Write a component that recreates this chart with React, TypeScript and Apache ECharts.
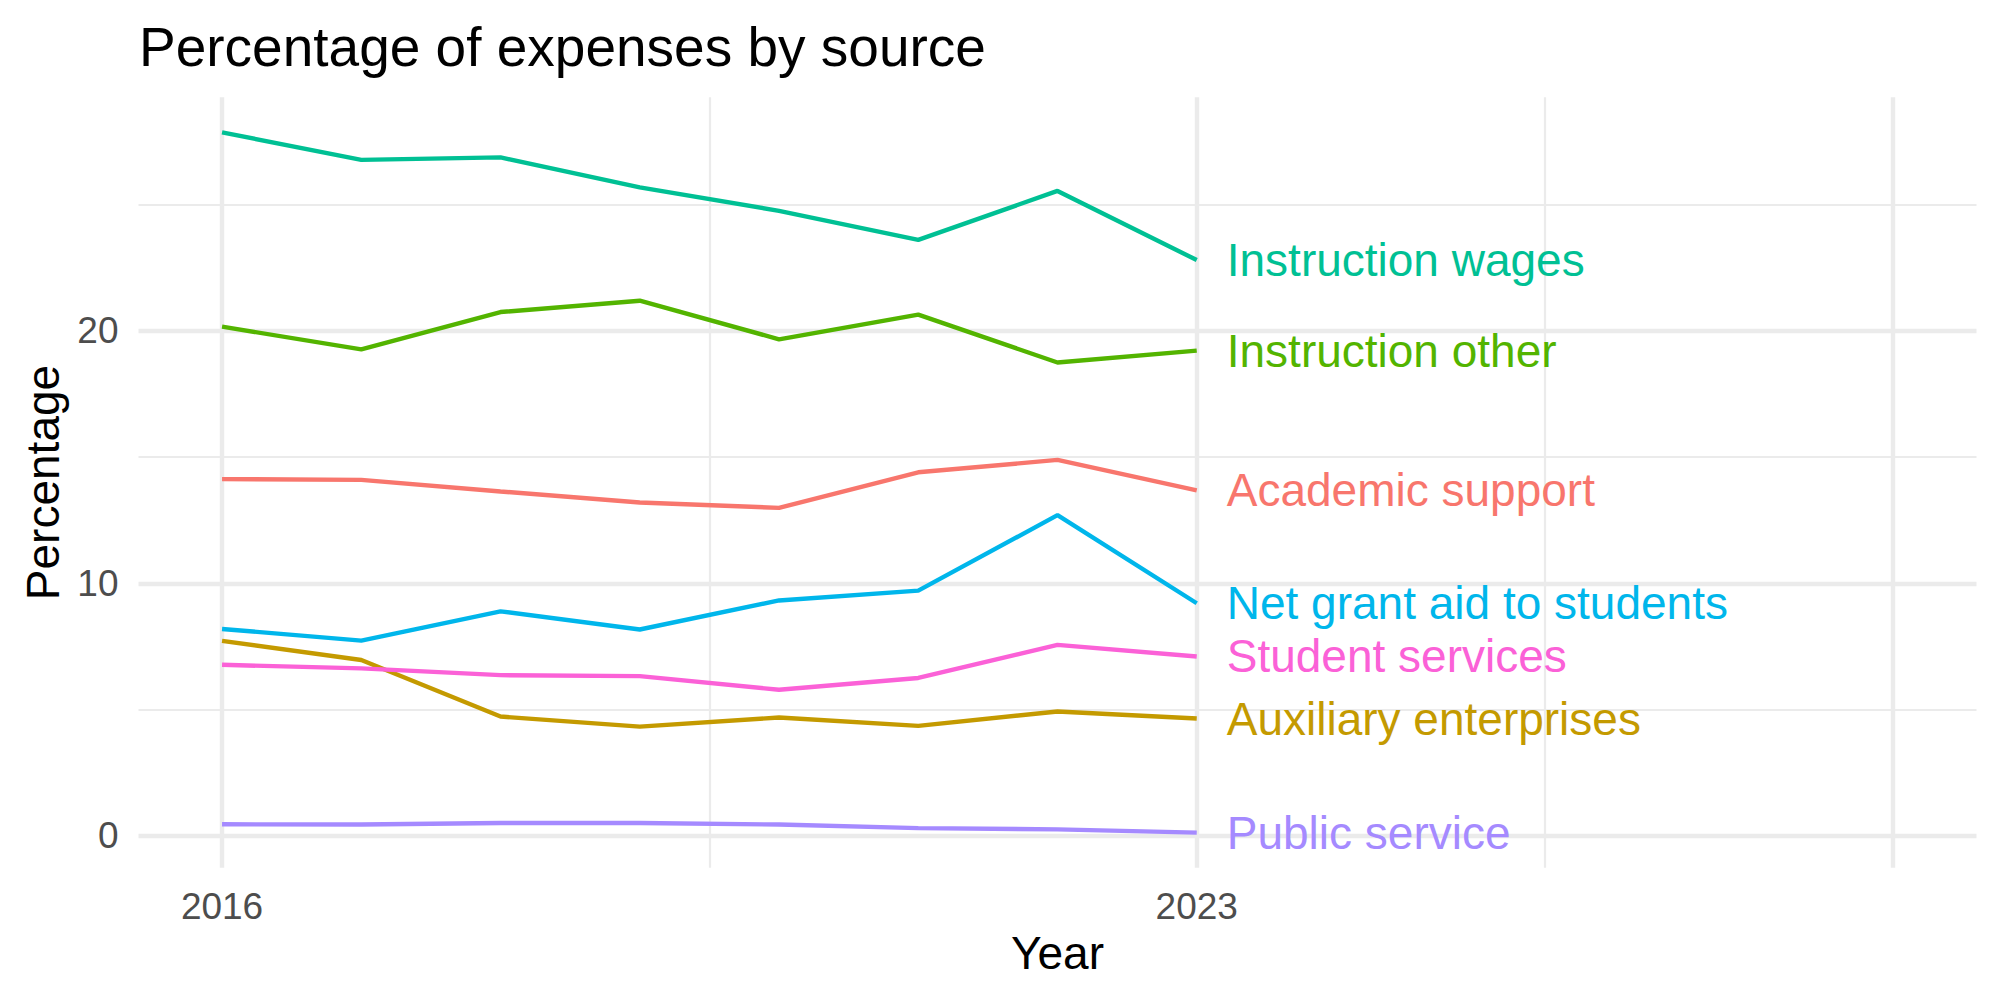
import React, { useEffect, useRef } from "react";
import * as echarts from "echarts";

const years = [2016, 2017, 2018, 2019, 2020, 2021, 2022, 2023];

const seriesNames = [
  "Academic support",
  "Auxiliary enterprises",
  "Instruction other",
  "Instruction wages",
  "Net grant aid to students",
  "Public service",
  "Student services",
];

const academicSupport = [14.13, 14.1, 13.64, 13.2, 12.99, 14.4, 14.89, 13.68];
const auxiliaryEnterprises = [7.72, 6.96, 4.72, 4.32, 4.68, 4.35, 4.92, 4.64];
const instructionOther = [20.17, 19.27, 20.75, 21.2, 19.67, 20.65, 18.75, 19.22];
const instructionWages = [27.87, 26.78, 26.88, 25.69, 24.76, 23.61, 25.55, 22.81];
const netGrantAid = [8.19, 7.73, 8.89, 8.17, 9.32, 9.71, 12.7, 9.21];
const publicService = [0.45, 0.44, 0.5, 0.5, 0.44, 0.3, 0.25, 0.12];
const studentServices = [6.77, 6.63, 6.36, 6.32, 5.78, 6.25, 7.56, 7.1];

const seriesValues = [
  academicSupport,
  auxiliaryEnterprises,
  instructionOther,
  instructionWages,
  netGrantAid,
  publicService,
  studentServices,
];

const colors = ["#F8766D", "#C49A00", "#53B400", "#00C094", "#00B6EB", "#A58AFF", "#FB61D7"];

const xMajorBreaks = [2016, 2023, 2028];
const xMinorBreaks = [2019.5, 2025.5];
const xLabelValues = [2016, 2023];
const yMajorBreaks = [0, 10, 20];
const yMinorBreaks = [5, 15, 25];

const X_MIN = 2015.4;
const X_MAX = 2028.6;
const Y_MIN = -1.27;
const Y_MAX = 29.26;

const FONT = "Liberation Sans, Arial, Helvetica, sans-serif";
const GRID_COLOR = "#EBEBEB";

export default function App() {
  const ref = useRef<HTMLDivElement>(null);

  useEffect(() => {
    if (!ref.current) return;
    const chart = echarts.init(ref.current, undefined, { renderer: "svg" });

    const gridMarkLines: any[] = [];
    xMinorBreaks.forEach((v) =>
      gridMarkLines.push({ xAxis: v, lineStyle: { color: GRID_COLOR, width: 2.2, type: "solid" } })
    );
    yMinorBreaks.forEach((v) =>
      gridMarkLines.push({ yAxis: v, lineStyle: { color: GRID_COLOR, width: 2.2, type: "solid" } })
    );
    xMajorBreaks.forEach((v) =>
      gridMarkLines.push({ xAxis: v, lineStyle: { color: GRID_COLOR, width: 4.4, type: "solid" } })
    );
    yMajorBreaks.forEach((v) =>
      gridMarkLines.push({ yAxis: v, lineStyle: { color: GRID_COLOR, width: 4.4, type: "solid" } })
    );

    const series: any[] = [
      {
        type: "line",
        name: "__grid",
        z: 1,
        silent: true,
        data: [[years[0], 0]],
        symbol: "none",
        lineStyle: { opacity: 0 },
        markLine: {
          z: 1,
          silent: true,
          symbol: ["none", "none"],
          label: { show: false },
          animation: false,
          data: gridMarkLines,
        },
      },
    ];

    seriesNames.forEach((name, i) => {
      series.push({
        type: "line",
        name,
        z: 3,
        data: years.map((y, j) => [y, seriesValues[i][j]]),
        symbol: "none",
        lineStyle: { color: colors[i], width: 4.4 },
        itemStyle: { color: colors[i] },
        endLabel: {
          show: true,
          formatter: "{a}",
          color: colors[i],
          fontSize: 46,
          fontFamily: FONT,
          distance: 30,
        },
      });
    });

    chart.setOption({
      animation: false,
      backgroundColor: "#ffffff",
      title: {
        text: "Percentage of expenses by source",
        left: 134,
        top: 14,
        textStyle: { fontSize: 55, fontWeight: "normal", color: "#000000", fontFamily: FONT },
      },
      grid: { left: 138.5, right: 23.5, top: 97.3, bottom: 132.3, containLabel: false },
      xAxis: {
        type: "value",
        min: X_MIN,
        max: X_MAX,
        name: "Year",
        nameLocation: "middle",
        nameGap: 62,
        nameTextStyle: { fontSize: 46, color: "#000000", fontFamily: FONT },
        axisLine: { show: false },
        axisTick: { show: false },
        splitLine: { show: false },
        axisLabel: {
          customValues: xLabelValues,
          formatter: (v: number) => String(v),
          fontSize: 37,
          color: "#4D4D4D",
          fontFamily: FONT,
          margin: 20,
        },
      },
      yAxis: {
        type: "value",
        min: Y_MIN,
        max: Y_MAX,
        name: "Percentage",
        nameLocation: "middle",
        nameGap: 72,
        nameRotate: 90,
        nameTextStyle: { fontSize: 46, color: "#000000", fontFamily: FONT },
        axisLine: { show: false },
        axisTick: { show: false },
        splitLine: { show: false },
        axisLabel: {
          customValues: yMajorBreaks,
          formatter: (v: number) => String(v),
          fontSize: 37,
          color: "#4D4D4D",
          fontFamily: FONT,
          margin: 20,
        },
      },
      series,
    });

    return () => chart.dispose();
  }, []);

  return (
    <div
      ref={ref}
      style={{ position: "fixed", left: 0, top: 0, width: 2000, height: 1000, background: "#fff" }}
    />
  );
}
